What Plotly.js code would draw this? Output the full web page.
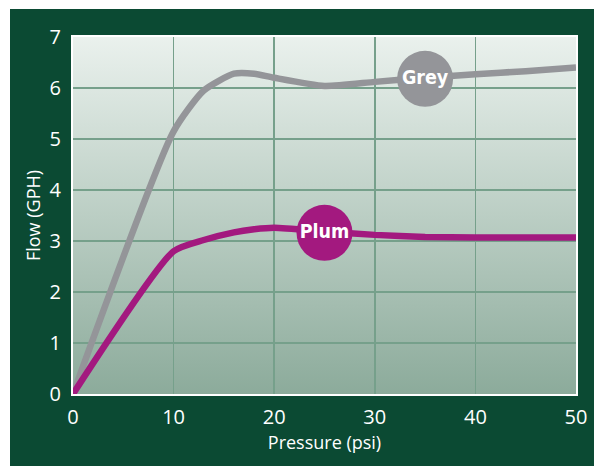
<!DOCTYPE html>
<html><head><meta charset="utf-8">
<script src="https://cdn.plot.ly/plotly-3.0.1.min.js"></script>
<style>
html,body{margin:0;padding:0;background:#fff;width:594px;height:466px;overflow:hidden;}
#chart{position:absolute;left:10px;top:9px;width:584px;height:457px;}
</style></head>
<body><div id="chart"></div>
<script>
const pressure = [0, 10, 13, 16, 18, 20, 25, 30, 35, 40, 45, 50];
const greyFlow = [0, 5.15, 5.95, 6.28, 6.28, 6.2, 6.04, 6.12, 6.2, 6.27, 6.33, 6.4];
const plumFlow = [0, 2.8, 3.02, 3.17, 3.23, 3.26, 3.19, 3.12, 3.08, 3.07, 3.07, 3.07];
const labelNames = ['Grey', 'Plum'];
const labelX = [35, 25];
const labelY = [6.18, 3.16];
const xTicks = [0, 10, 20, 30, 40, 50];
const yTicks = [0, 1, 2, 3, 4, 5, 6, 7];

const GREY = '#949599', PLUM = '#a3197f';
const grad = 'data:image/svg+xml;utf8,' + encodeURIComponent(
 '<svg xmlns="http://www.w3.org/2000/svg" width="10" height="100" preserveAspectRatio="none">' +
 '<defs><linearGradient id="g" x1="0" y1="0" x2="0" y2="1">' +
 '<stop offset="0" stop-color="#eaf1ed"/><stop offset="1" stop-color="#8cab9b"/></linearGradient></defs>' +
 '<rect width="10" height="100" fill="url(#g)"/></svg>');

const traces = [
 {x: pressure, y: greyFlow, mode: 'lines', line: {color: GREY, width: 6.5, shape: 'spline', smoothing: 0.6}, hoverinfo: 'skip'},
 {x: pressure, y: plumFlow, mode: 'lines', line: {color: PLUM, width: 6.5, shape: 'spline', smoothing: 0.6}, hoverinfo: 'skip'},
 {x: labelX, y: labelY, text: labelNames, mode: 'markers+text', textposition: 'middle center',
  marker: {size: 56, color: [GREY, PLUM], line: {width: 0}},
  textfont: {family: '"DejaVu Sans Condensed", "Liberation Sans Narrow", "DejaVu Sans"', size: 19.5, color: '#ffffff', weight: 'bold'}, hoverinfo: 'skip'}
];
const tickFont = {family: 'Open Sans', size: 20, color: '#ffffff'};
const layout = {
 width: 584, height: 457,
 margin: {l: 63, r: 18, t: 28, b: 72},
 paper_bgcolor: '#0b4a33', plot_bgcolor: 'rgba(0,0,0,0)',
 showlegend: false,
 images: [{source: grad, xref: 'paper', yref: 'paper', x: 0, y: 1, sizex: 1, sizey: 1,
   xanchor: 'left', yanchor: 'top', sizing: 'stretch', layer: 'below'}],
 xaxis: {range: [0, 50], tickvals: xTicks, ticktext: xTicks.map(String), tickfont: tickFont,
   showgrid: true, gridcolor: '#76a08b', gridwidth: 1.5, zeroline: false,
   showline: true, linecolor: '#ffffff', linewidth: 2, mirror: true, ticks: '', ticklabelstandoff: 4,
   title: {text: 'Pressure (psi)', font: {family: 'Open Sans', size: 18, color: '#ffffff'}, standoff: 6}},
 yaxis: {range: [0, 7], tickvals: yTicks, ticktext: yTicks.map(String), tickfont: tickFont,
   showgrid: true, gridcolor: '#76a08b', gridwidth: 1.5, zeroline: false,
   showline: true, linecolor: '#ffffff', linewidth: 2, mirror: true, ticks: '', ticklabelstandoff: 6,
   title: {text: 'Flow (GPH)', font: {family: 'Open Sans', size: 18, color: '#ffffff'}, standoff: 4}}
};
Plotly.newPlot('chart', traces, layout, {staticPlot: true, displayModeBar: false});
</script></body></html>
